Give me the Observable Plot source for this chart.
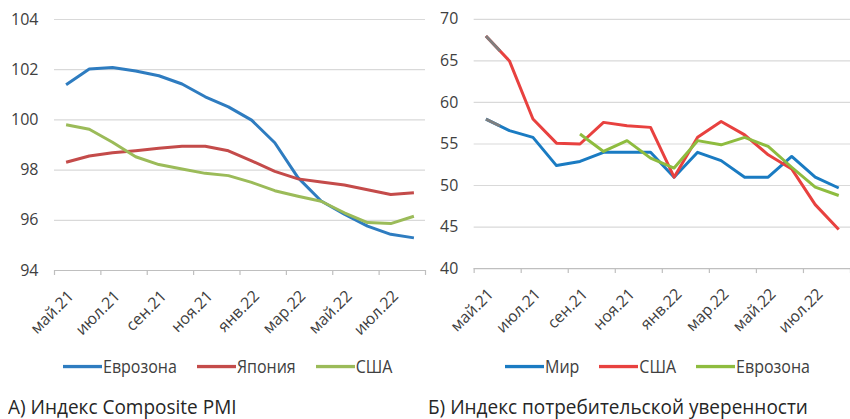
<!DOCTYPE html>
<html>
<head>
<meta charset="utf-8">
<script src="https://cdn.jsdelivr.net/npm/d3@7"></script>
<script src="https://cdn.jsdelivr.net/npm/@observablehq/plot@0.6"></script>
<style>
  html, body { margin: 0; padding: 0; background: #fff; }
  body { width: 850px; height: 419px; overflow: hidden; font-family: "Open Sans", sans-serif; color: #262626; }
  #wrap { position: relative; width: 850px; height: 419px; overflow: hidden; }
  .panel { position: absolute; top: 0; }
  .legend { position: absolute; top: 356px; height: 20px; display: flex; align-items: center; font-size: 16px; color: #404040; white-space: nowrap; transform: scaleY(1.1); transform-origin: 0 50%; }
  .legend .item { display: flex; align-items: center; margin-right: 20px; }
  .legend .sw { width: 39px; height: 3px; margin-right: 1px; }
  .title { position: absolute; top: 395px; height: 22px; font-size: 19px; line-height: 22px; color: #262626; white-space: nowrap; transform: scaleY(1.08); transform-origin: 0 50%; }
</style>
</head>
<body>
<div id="wrap">
  <div class="panel" id="left" style="left:0"></div>
  <div class="panel" id="right" style="left:425px"></div>
  <div class="legend" id="legL" style="left:63px"></div>
  <div class="legend" id="legR" style="left:505px"></div>
  <div class="title" style="left:8px">А) Индекс Composite PMI</div>
  <div class="title" style="left:428px">Б) Индекс потребительской уверенности</div>
</div>
<script>
// ---- Data ----
const months = ["май.21","июн.21","июл.21","авг.21","сен.21","окт.21","ноя.21","дек.21","янв.22","фев.22","мар.22","апр.22","май.22","июн.22","июл.22","авг.22"];

// Panel A: Composite PMI
const pmiEurozone = [101.4, 102.03, 102.09, 101.95, 101.76, 101.43, 100.92, 100.52, 99.99, 99.09, 97.7, 96.77, 96.24, 95.77, 95.44, 95.3];
const pmiJapan    = [98.31, 98.56, 98.69, 98.77, 98.87, 98.95, 98.95, 98.77, 98.37, 97.95, 97.65, 97.53, 97.41, 97.22, 97.03, 97.1];
const pmiUSA      = [99.81, 99.63, 99.11, 98.53, 98.22, 98.04, 97.87, 97.78, 97.51, 97.18, 96.96, 96.76, 96.3, 95.91, 95.87, 96.16];
const pmiTicks = [94, 96, 98, 100, 102, 104];
const pmiNames = ["Еврозона", "Япония", "США"];
const pmiColors = ["#2e7cc0", "#c44b4a", "#9bbb59"];

// Panel B: Consumer confidence
const confWorld    = [58, 56.6, 55.8, 52.4, 52.9, 54, 54, 54, 51, 54, 53, 51, 51, 53.5, 51, 49.7];
const confUSA      = [68, 65, 58, 55.1, 55, 57.6, 57.2, 57, 51, 55.8, 57.7, 56.1, 53.7, 52, 47.7, 44.7];
const confEurozone = [null, null, null, null, 56.2, 54.1, 55.4, 53.3, 52.1, 55.4, 54.9, 55.8, 54.7, 52.2, 49.8, 48.8];
const confTicks = [40, 45, 50, 55, 60, 65, 70];
const confNames = ["Мир", "США", "Еврозона"];
const confColors = ["#1a7bc2", "#e8413f", "#8ebc3f"];
const greyColor = "#7f7f7f";

// ---- Chart builder ----
const n = months.length;
function makeChart({seriesList, colors, yTicks, width, marginLeft, greyStarts}) {
  const yDomain = d3.extent(yTicks);
  const labelIdx = d3.range(0, n, 2);
  const boundaries = d3.range(-0.5, n, 2);
  const rows = [];
  seriesList.forEach((vals, s) => vals.forEach((v, i) => rows.push({s, i, v})));
  const marks = [
    Plot.ruleY(yTicks.filter(t => t !== yDomain[0]), {y: d => d, stroke: "#d9d9d9", strokeWidth: 1.2}),
    Plot.ruleY([yDomain[0]], {y: d => d, stroke: "#bfbfbf", strokeWidth: 1.2}),
    Plot.ruleX(boundaries, {x: d => d, y1: yDomain[0], y2: yDomain[0], insetBottom: -5, stroke: "#bfbfbf", strokeWidth: 1.2}),
    Plot.text(labelIdx, {x: d => d, y: yDomain[0], text: d => months[d], rotate: -45, textAnchor: "end", dx: 5, dy: 23, fontSize: 16, fill: "#404040"})
  ];
  seriesList.forEach((vals, s) => {
    marks.push(Plot.line(rows.filter(r => r.s === s), {x: "i", y: "v", stroke: colors[s], strokeWidth: 3, defined: r => r.v != null, strokeLinejoin: "round", strokeLinecap: "butt"}));
  });
  if (greyStarts) {
    greyStarts.forEach(s => {
      marks.push(Plot.line(rows.filter(r => r.s === s && r.i < 2), {x: "i", y: "v", stroke: greyColor, strokeWidth: 3, strokeLinecap: "butt"}));
    });
  }
  return Plot.plot({
    width, height: 340,
    marginLeft, marginRight: 0, marginTop: 19, marginBottom: 70,
    x: {type: "linear", domain: [-0.5, n - 0.5], axis: null},
    y: {domain: yDomain, ticks: yTicks, tickSize: 0, tickPadding: 16, label: null, tickFormat: d => String(d)},
    style: {fontFamily: "Open Sans, sans-serif", fontSize: "16px", color: "#404040", background: "transparent", overflow: "visible"},
    marks
  });
}

const left = makeChart({seriesList: [pmiEurozone, pmiJapan, pmiUSA], colors: pmiColors, yTicks: pmiTicks, width: 425, marginLeft: 54});
document.getElementById("left").appendChild(left);

const right = makeChart({seriesList: [confWorld, confUSA, confEurozone], colors: confColors, yTicks: confTicks, width: 428, marginLeft: 49, greyStarts: [0, 1]});
document.getElementById("right").appendChild(right);
// grey start segments cover the first part of the first segment
d3.select(right).selectAll(`g[stroke="${greyColor}"] path`).attr("pathLength", 100).attr("stroke-dasharray", "60 100");

// ---- Legends ----
function legend(id, names, colors) {
  const el = document.getElementById(id);
  names.forEach((name, k) => {
    const item = document.createElement("div");
    item.className = "item";
    item.innerHTML = `<span class="sw" style="background:${colors[k]}"></span><span>${name}</span>`;
    el.appendChild(item);
  });
}
legend("legL", pmiNames, pmiColors);
legend("legR", confNames, confColors);
</script>
</body>
</html>
